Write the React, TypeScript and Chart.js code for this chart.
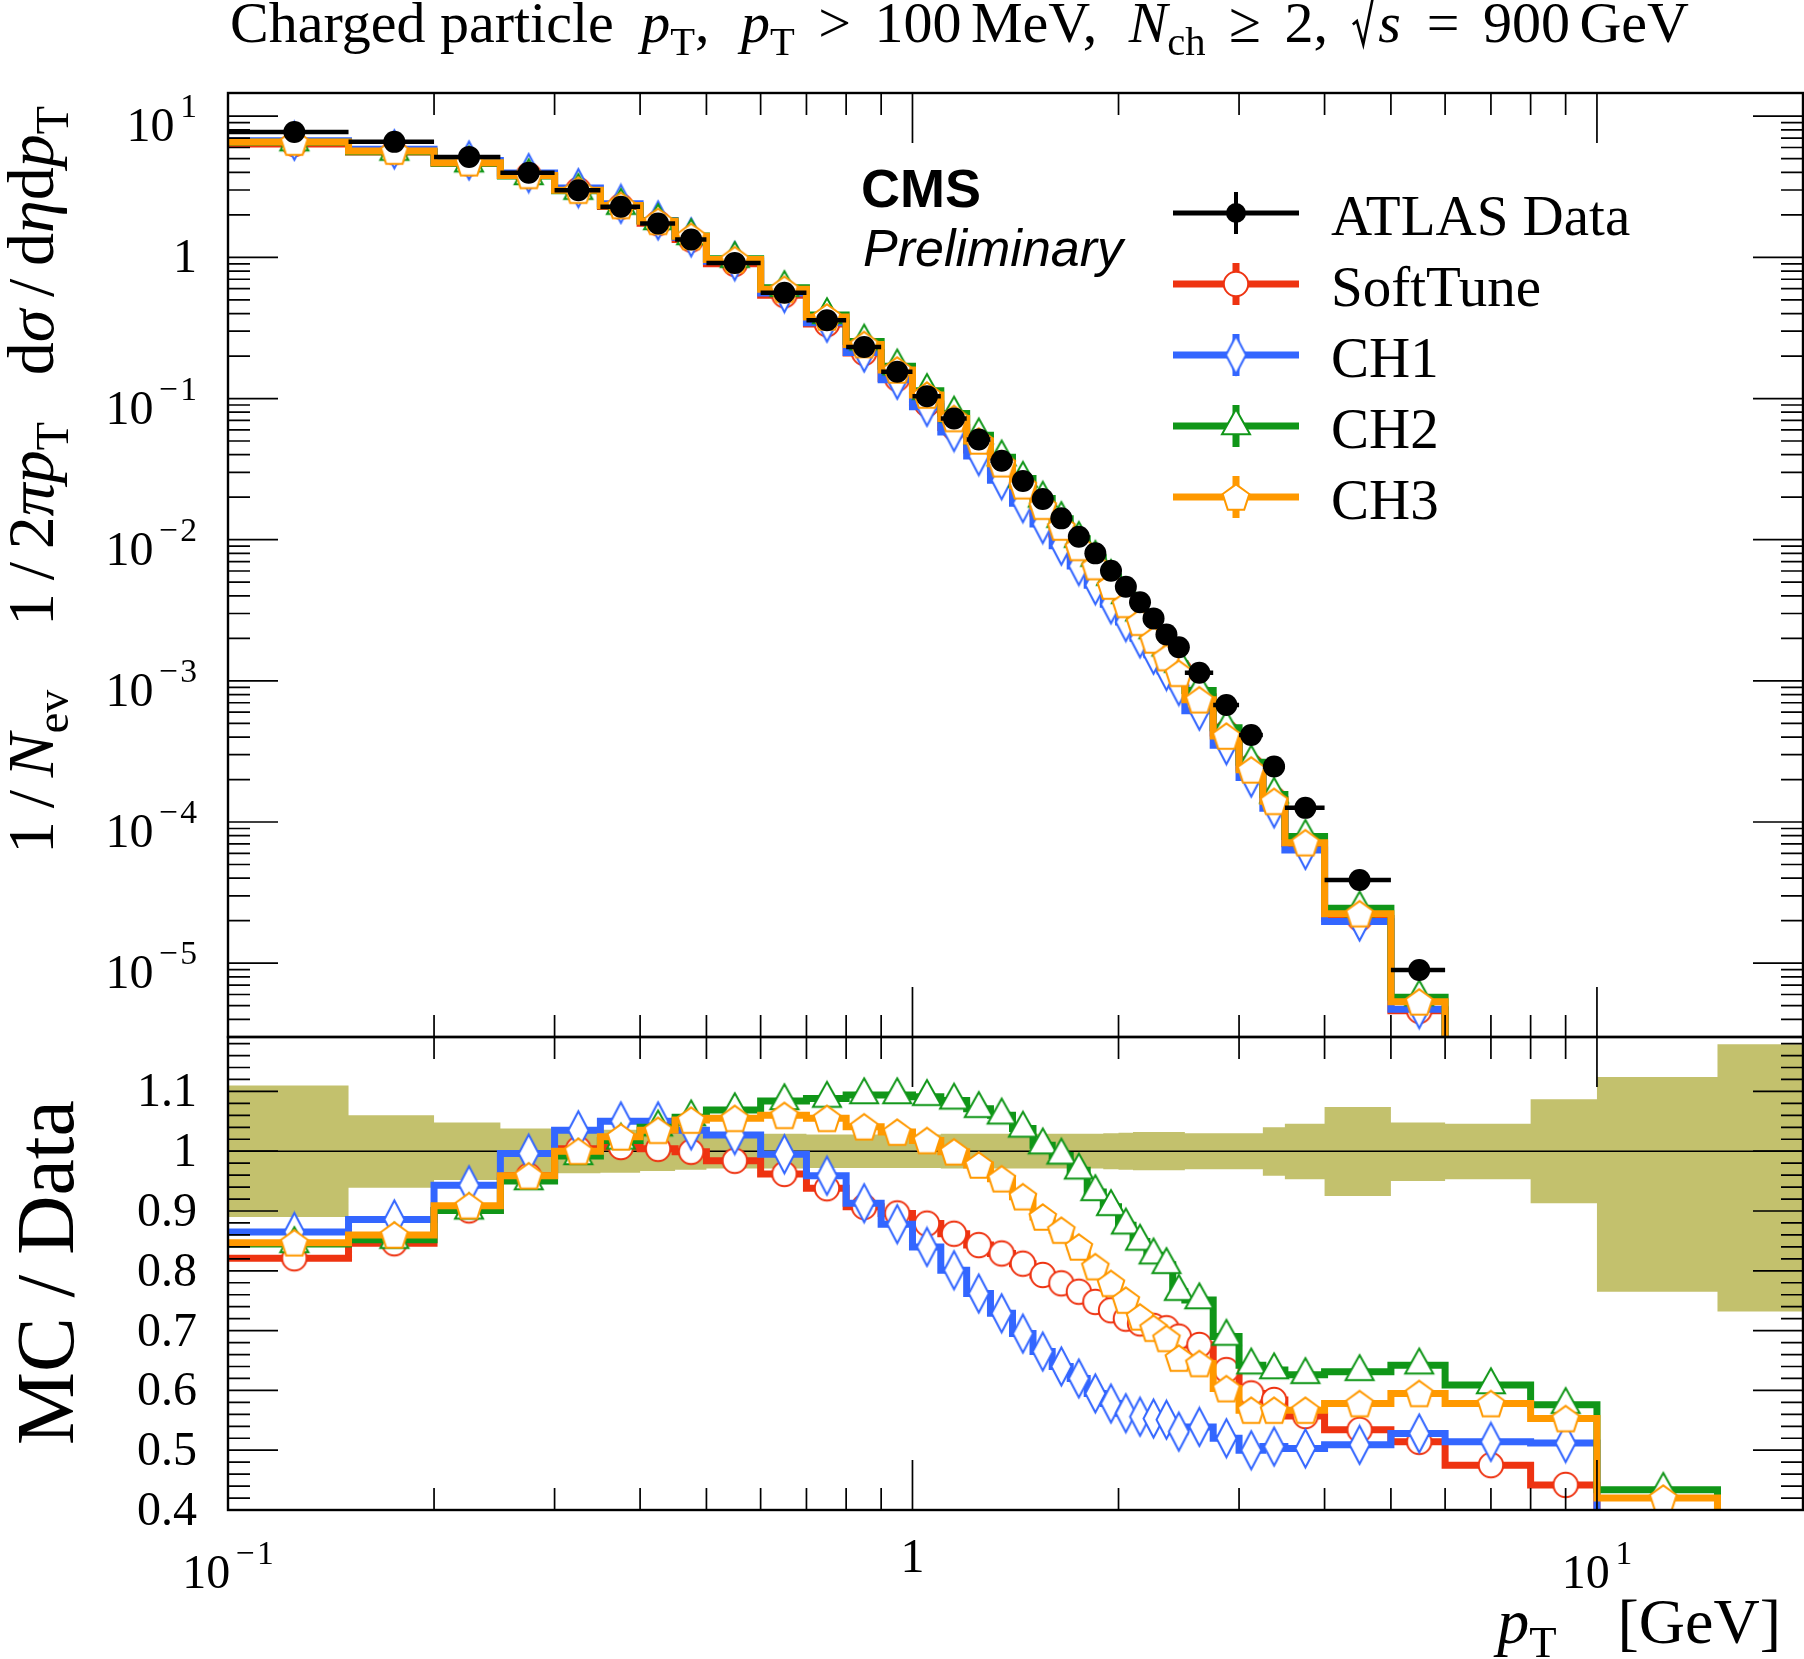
import React, { useEffect, useRef } from "react";
import { Chart, registerables } from "chart.js";

Chart.register(...registerables);

// ------------------------------------------------------------------ data
// bin edges (GeV)
const binEdges = [0.1, 0.15, 0.2, 0.25, 0.3, 0.35, 0.4, 0.45, 0.5, 0.6, 0.7, 0.8, 0.9, 1.0, 1.1, 1.2, 1.3, 1.4, 1.5, 1.6, 1.7, 1.8, 1.9, 2.0, 2.1, 2.2, 2.3, 2.4, 2.5, 2.75, 3.0, 3.25, 3.5, 4.0, 5.0, 6.0, 8.0, 10.0, 15.0, 20.0];

// ATLAS data, 1/Nev 1/2pi pT dsigma/deta dpT (bins up to 6 GeV)
const atlasData = [7.74, 6.58, 5.15, 3.97, 2.99, 2.28, 1.74, 1.34, 0.914, 0.561, 0.359, 0.232, 0.1546, 0.104, 0.0723, 0.0513, 0.0362, 0.0261, 0.0194, 0.01416, 0.0105, 0.008, 0.00603, 0.00464, 0.0036, 0.00277, 0.00213, 0.00173, 0.00114, 0.000674, 0.000413, 0.000247, 0.000126, 3.88e-5, 8.95e-6];

// MC / Data ratios
const softTuneRatio = [0.821, 0.846, 0.901, 0.959, 1.004, 1.007, 1.004, 0.999, 0.984, 0.962, 0.938, 0.907, 0.896, 0.879, 0.862, 0.843, 0.829, 0.812, 0.793, 0.779, 0.765, 0.748, 0.734, 0.72, 0.712, 0.708, 0.704, 0.69, 0.676, 0.634, 0.595, 0.584, 0.557, 0.534, 0.514, 0.475, 0.442, null, null];
const ch1Ratio = [0.865, 0.886, 0.943, 0.996, 1.035, 1.05, 1.05, 1.035, 1.027, 0.995, 0.959, 0.913, 0.878, 0.84, 0.801, 0.762, 0.729, 0.695, 0.665, 0.64, 0.62, 0.595, 0.578, 0.562, 0.556, 0.553, 0.551, 0.531, 0.539, 0.52, 0.5, 0.506, 0.503, 0.509, 0.528, 0.514, 0.512, null, null];
const ch2Ratio = [0.845, 0.852, 0.901, 0.95, 0.992, 1.018, 1.04, 1.057, 1.069, 1.084, 1.088, 1.094, 1.094, 1.091, 1.085, 1.071, 1.06, 1.038, 1.01, 0.993, 0.968, 0.932, 0.907, 0.876, 0.849, 0.826, 0.81, 0.765, 0.751, 0.69, 0.642, 0.634, 0.626, 0.631, 0.642, 0.609, 0.576, 0.434, null];
const ch3Ratio = [0.847, 0.86, 0.909, 0.959, 1.0, 1.024, 1.035, 1.052, 1.055, 1.06, 1.055, 1.041, 1.032, 1.018, 0.999, 0.977, 0.954, 0.924, 0.89, 0.868, 0.84, 0.807, 0.779, 0.751, 0.723, 0.704, 0.687, 0.654, 0.645, 0.603, 0.567, 0.567, 0.567, 0.578, 0.595, 0.578, 0.553, 0.42, null];

// data uncertainty band (ratio units)
const bandUpper = [1.11, 1.06, 1.048, 1.038, 1.037, 1.036, 1.033, 1.031, 1.029, 1.029, 1.028, 1.028, 1.028, 1.028, 1.029, 1.029, 1.029, 1.029, 1.029, 1.029, 1.029, 1.029, 1.03, 1.031, 1.032, 1.032, 1.032, 1.032, 1.03, 1.03, 1.03, 1.04, 1.046, 1.074, 1.048, 1.046, 1.087, 1.124, 1.179];
const bandLower = [0.89, 0.939, 0.952, 0.962, 0.963, 0.964, 0.967, 0.969, 0.971, 0.971, 0.972, 0.972, 0.972, 0.972, 0.971, 0.971, 0.971, 0.971, 0.971, 0.971, 0.971, 0.971, 0.97, 0.969, 0.968, 0.968, 0.968, 0.968, 0.97, 0.97, 0.97, 0.959, 0.953, 0.925, 0.95, 0.953, 0.913, 0.765, 0.732];

// tick labels
const topYTickExps = [1, 0, -1, -2, -3, -4, -5];
const ratioTickValues = [1.1, 1.0, 0.9, 0.8, 0.7, 0.6, 0.5, 0.4];
const ratioTickLabels = ["1.1", "1", "0.9", "0.8", "0.7", "0.6", "0.5", "0.4"];
const xTickExps = [-1, 0, 1];

const legendLabels = ["ATLAS Data", "SoftTune", "CH1", "CH2", "CH3"];

// ------------------------------------------------------------------ layout / style
const W = 1804;
const H = 1659;
const PLOT_LEFT = 228;
const PLOT_RIGHT = 1803;
const TOP_TOP = 93;
const SPLIT = 1037;
const BOT_BOTTOM = 1510;
const X_MIN = 0.1;
const X_MAX = 20;
const TOP_Y_MIN = 3.0e-6;
const TOP_Y_MAX = 14.6;
const R_MIN = 0.4;
const R_MAX = 1.191;

const SERIF = '"Liberation Serif", "DejaVu Serif", serif';
const SANS = '"Liberation Sans", "DejaVu Sans", sans-serif';

const COL = {
  soft: "#EE3311",
  ch1: "#3366FF",
  ch2: "#109618",
  ch3: "#FF9900",
  band: "#C3C16D",
};

type Seg = { t?: string; it?: boolean; sub?: boolean; sup?: boolean; gap?: number; sqrt?: string };

function fontOf(s: Seg, size: number, family: string): string {
  const sz = s.sub || s.sup ? size * 0.7 : size;
  return `${s.it ? "italic " : ""}${sz.toFixed(2)}px ${family}`;
}

const RAD_W = 0.46;

function drawRich(
  ctx: CanvasRenderingContext2D,
  segs: Seg[],
  x: number,
  y: number,
  size: number,
  family: string,
  align: "left" | "right" | "center" = "left",
  target?: number
): number {
  const widths = segs.map((s) => {
    if (s.gap !== undefined) return s.gap * size;
    if (s.sqrt !== undefined) {
      ctx.font = fontOf({ it: true }, size, family);
      return RAD_W * size + ctx.measureText(s.sqrt).width + 0.04 * size;
    }
    ctx.font = fontOf(s, size, family);
    return ctx.measureText(s.t ?? "").width;
  });
  let total = widths.reduce((p, c) => p + c, 0);
  if (target !== undefined) {
    let gapSum = 0;
    segs.forEach((s, i) => {
      if (s.gap !== undefined) gapSum += widths[i];
    });
    if (gapSum > 0) {
      const f = Math.max(0, (target - (total - gapSum)) / gapSum);
      segs.forEach((s, i) => {
        if (s.gap !== undefined) widths[i] *= f;
      });
      total = widths.reduce((p, c) => p + c, 0);
    }
  }
  let cx = align === "right" ? x - total : align === "center" ? x - total / 2 : x;
  ctx.textAlign = "left";
  ctx.textBaseline = "alphabetic";
  segs.forEach((s, i) => {
    if (s.sqrt !== undefined) {
      ctx.font = fontOf({ it: true }, size, family);
      const sw = ctx.measureText(s.sqrt).width;
      ctx.save();
      ctx.strokeStyle = "#000";
      ctx.lineWidth = size * 0.045;
      ctx.lineJoin = "miter";
      ctx.beginPath();
      ctx.moveTo(cx + 0.02 * size, y - 0.3 * size);
      ctx.lineTo(cx + 0.09 * size, y - 0.36 * size);
      ctx.lineTo(cx + 0.2 * size, y + 0.04 * size);
      ctx.lineTo(cx + 0.38 * size, y - 0.84 * size);
      ctx.lineTo(cx + RAD_W * size + sw + 0.04 * size, y - 0.84 * size);
      ctx.stroke();
      ctx.restore();
      ctx.fillText(s.sqrt, cx + RAD_W * size, y);
    } else if (s.gap === undefined) {
      ctx.font = fontOf(s, size, family);
      const dy = s.sub ? 0.22 * size : s.sup ? -0.5 * size : 0;
      ctx.fillText(s.t ?? "", cx, y + dy);
    }
    cx += widths[i];
  });
  return total;
}

type MarkerKind = "circle" | "diamond" | "triangle" | "pentagon";

function makeMarker(kind: MarkerKind, color: string): HTMLCanvasElement {
  const c = document.createElement("canvas");
  const dims: Record<MarkerKind, [number, number]> = {
    circle: [30, 30],
    diamond: [25, 43],
    triangle: [34, 40],
    pentagon: [32, 32],
  };
  c.width = dims[kind][0];
  c.height = dims[kind][1];
  const g = c.getContext("2d")!;
  g.lineWidth = 2;
  g.strokeStyle = color;
  g.fillStyle = "#ffffff";
  g.lineJoin = "miter";
  g.beginPath();
  if (kind === "circle") {
    g.arc(15, 15, 12.2, 0, Math.PI * 2);
  } else if (kind === "diamond") {
    g.moveTo(12.5, 2.5);
    g.lineTo(22.5, 21.5);
    g.lineTo(12.5, 40.5);
    g.lineTo(2.5, 21.5);
    g.closePath();
  } else if (kind === "triangle") {
    g.moveTo(17, 3.3);
    g.lineTo(31, 28.3);
    g.lineTo(3, 28.3);
    g.closePath();
  } else {
    const R = 14;
    const cx = 16;
    const cy = 16 + 0.0955 * R;
    for (let k = 0; k < 5; k++) {
      const a = ((-90 + 72 * k) * Math.PI) / 180;
      const px = cx + R * Math.cos(a);
      const py = cy + R * Math.sin(a);
      if (k === 0) g.moveTo(px, py);
      else g.lineTo(px, py);
    }
    g.closePath();
  }
  g.fill();
  g.stroke();
  return c;
}

const binCenter = (i: number) => (binEdges[i] + binEdges[i + 1]) / 2;

function histPoints(vals: (number | null)[], floor: number | null) {
  const pts: { x: number; y: number }[] = [];
  let last = -1;
  for (let i = 0; i < vals.length; i++) {
    const v = vals[i];
    if (v === null || v === undefined) break;
    pts.push({ x: binEdges[i], y: v });
    last = i;
  }
  if (last >= 0) {
    pts.push({ x: binEdges[last + 1], y: vals[last] as number });
    if (floor !== null) pts.push({ x: binEdges[last + 1], y: floor });
  }
  return pts;
}

function markerPoints(vals: (number | null)[]) {
  const pts: { x: number; y: number }[] = [];
  vals.forEach((v, i) => {
    if (v !== null && v !== undefined) pts.push({ x: binCenter(i), y: v });
  });
  return pts;
}

function xTickList() {
  const out: { v: number; major: boolean }[] = [];
  for (let e = -1; e <= 1; e++) for (let k = 1; k <= 9; k++) out.push({ v: k * Math.pow(10, e), major: k === 1 });
  out.push({ v: 20, major: false });
  return out.filter((t) => t.v >= X_MIN - 1e-9 && t.v <= X_MAX + 1e-9);
}

function topYTickList() {
  const out: { v: number; major: boolean }[] = [];
  for (let e = -6; e <= 1; e++) for (let k = 1; k <= 9; k++) out.push({ v: k * Math.pow(10, e), major: k === 1 });
  return out.filter((t) => t.v >= TOP_Y_MIN && t.v <= TOP_Y_MAX);
}

function ratioTickList() {
  const out: { v: number; major: boolean }[] = [];
  for (let i = 20; i <= 59; i++) out.push({ v: i / 50, major: i % 5 === 0 });
  return out.filter((t) => t.v >= R_MIN - 1e-9 && t.v <= R_MAX);
}

function drawFrame(chart: any, yTicks: { v: number; major: boolean }[]) {
  const ctx: CanvasRenderingContext2D = chart.ctx;
  const a = chart.chartArea;
  const xs = chart.scales.x;
  const ys = chart.scales.y;
  ctx.save();
  ctx.strokeStyle = "#000";
  ctx.lineWidth = 1.7;
  ctx.beginPath();
  for (const t of xTickList()) {
    const px = xs.getPixelForValue(t.v);
    const L = t.major ? 50 : 22;
    ctx.moveTo(px, a.top);
    ctx.lineTo(px, a.top + L);
    ctx.moveTo(px, a.bottom);
    ctx.lineTo(px, a.bottom - L);
  }
  for (const t of yTicks) {
    const py = ys.getPixelForValue(t.v);
    const L = t.major ? 50 : 22;
    ctx.moveTo(a.left, py);
    ctx.lineTo(a.left + L, py);
    ctx.moveTo(a.right, py);
    ctx.lineTo(a.right - L, py);
  }
  ctx.stroke();
  ctx.lineWidth = 2.4;
  ctx.strokeRect(a.left, a.top, a.right - a.left, a.bottom - a.top);
  ctx.restore();
}

export default function App() {
  const topRef = useRef<HTMLCanvasElement>(null);
  const botRef = useRef<HTMLCanvasElement>(null);

  useEffect(() => {
    const series = [
      { label: legendLabels[1], ratio: softTuneRatio, color: COL.soft, img: makeMarker("circle", COL.soft) },
      { label: legendLabels[2], ratio: ch1Ratio, color: COL.ch1, img: makeMarker("diamond", COL.ch1) },
      { label: legendLabels[3], ratio: ch2Ratio, color: COL.ch2, img: makeMarker("triangle", COL.ch2) },
      { label: legendLabels[4], ratio: ch3Ratio, color: COL.ch3, img: makeMarker("pentagon", COL.ch3) },
    ];

    const lineDs = (data: any[], color: string, order: number, extra: any = {}) => ({
      type: "line",
      data,
      borderColor: color,
      backgroundColor: color,
      borderWidth: 7,
      pointRadius: 0,
      stepped: true,
      fill: false,
      tension: 0,
      borderCapStyle: "butt",
      borderJoinStyle: "miter",
      clip: 0,
      order,
      ...extra,
    });
    const markerDs = (data: any[], img: HTMLCanvasElement, order: number) => ({
      type: "line",
      data,
      showLine: false,
      pointStyle: img,
      pointRadius: 12,
      borderColor: "rgba(0,0,0,0)",
      backgroundColor: "rgba(0,0,0,0)",
      clip: 0,
      order,
    });

    // ---------------- top panel datasets
    const topDatasets: any[] = [];
    topDatasets.push({
      type: "line",
      data: atlasData.map((v, i) => ({ x: binCenter(i), y: v })),
      showLine: false,
      pointStyle: "circle",
      pointRadius: 11,
      pointBackgroundColor: "#000",
      pointBorderColor: "#000",
      pointBorderWidth: 0,
      clip: 0,
      order: 0,
    });
    const errPts: any[] = [];
    atlasData.forEach((v, i) => {
      errPts.push({ x: binEdges[i], y: v });
      errPts.push({ x: binEdges[i + 1], y: v });
      errPts.push({ x: binEdges[i + 1], y: null });
    });
    topDatasets.push({
      type: "line",
      data: errPts,
      borderColor: "#000",
      borderWidth: 4.5,
      pointRadius: 0,
      spanGaps: false,
      borderCapStyle: "butt",
      clip: 0,
      order: 1,
    });
    series.forEach((s, k) => {
      const topVals = atlasData.map((d, i) => (s.ratio[i] === null ? null : d * (s.ratio[i] as number)));
      const ord = 2 + (3 - k) * 2;
      topDatasets.push(markerDs(markerPoints(topVals), s.img, ord));
      topDatasets.push(lineDs(histPoints(topVals, 1e-9), s.color, ord + 1));
    });

    // ---------------- ratio panel datasets
    const botDatasets: any[] = [];
    series.forEach((s, k) => {
      const ord = 2 + (3 - k) * 2;
      botDatasets.push(markerDs(markerPoints(s.ratio), s.img, ord));
      botDatasets.push(lineDs(histPoints(s.ratio, 0), s.color, ord + 1));
    });
    botDatasets.push({
      type: "line",
      data: [
        { x: X_MIN, y: 1 },
        { x: X_MAX, y: 1 },
      ],
      borderColor: "#000",
      borderWidth: 1.6,
      pointRadius: 0,
      clip: 0,
      order: 15,
    });
    botDatasets.push({
      type: "line",
      data: histPoints(bandUpper, null),
      stepped: true,
      borderWidth: 0,
      borderColor: "rgba(0,0,0,0)",
      backgroundColor: COL.band,
      pointRadius: 0,
      fill: "+1",
      clip: 0,
      order: 20,
    });
    botDatasets.push({
      type: "line",
      data: histPoints(bandLower, null),
      stepped: true,
      borderWidth: 0,
      borderColor: "rgba(0,0,0,0)",
      backgroundColor: COL.band,
      pointRadius: 0,
      fill: false,
      clip: 0,
      order: 21,
    });

    const titleSegs: Seg[] = [
      { t: "Charged particle" }, { gap: 0.35 }, { t: "p", it: true }, { t: "T", sub: true }, { t: "," }, { gap: 0.4 },
      { t: "p", it: true }, { t: "T", sub: true }, { gap: 0.3 }, { t: ">" }, { gap: 0.3 }, { t: "100" }, { gap: 0.12 },
      { t: "MeV," }, { gap: 0.4 }, { t: "N", it: true }, { t: "ch", sub: true }, { gap: 0.3 }, { t: "≥" }, { gap: 0.3 },
      { t: "2," }, { gap: 0.3 }, { sqrt: "s" }, { gap: 0.3 }, { t: "=" }, { gap: 0.3 }, { t: "900" }, { gap: 0.12 }, { t: "GeV" },
    ];
    const yTitleSegs: Seg[] = [
      { t: "1" }, { gap: 0.06 }, { t: "/" }, { gap: 0.06 }, { t: "N", it: true }, { t: "ev", sub: true }, { gap: 0.3 },
      { t: "1" }, { gap: 0.06 }, { t: "/" }, { gap: 0.06 }, { t: "2" }, { t: "π", it: true }, { t: "p", it: true }, { t: "T", sub: true },
      { gap: 0.22 }, { t: "d" }, { t: "σ", it: true }, { gap: 0.06 }, { t: "/" }, { gap: 0.06 }, { t: "d" }, { t: "η", it: true },
      { t: "d" }, { t: "p", it: true }, { t: "T", sub: true },
    ];

    const topPlugin = {
      id: "topDecor",
      afterDatasetsDraw(chart: any) {
        const ctx: CanvasRenderingContext2D = chart.ctx;
        drawFrame(chart, topYTickList());
        const ys = chart.scales.y;
        ctx.save();
        ctx.fillStyle = "#000";
        // y tick labels
        for (const e of topYTickExps) {
          const py = ys.getPixelForValue(Math.pow(10, e));
          if (e === 0) drawRich(ctx, [{ t: "1" }], 197, py + 15, 48, SERIF, "right");
          else
            drawRich(
              ctx,
              e < 0
                ? [{ t: "10" }, { gap: 0.12 }, { t: "−", sup: true }, { gap: 0.04 }, { t: String(-e), sup: true }]
                : [{ t: "10" }, { gap: 0.12 }, { t: String(e), sup: true }],
              197,
              py + 25,
              48,
              SERIF,
              "right"
            );
        }
        // title
        drawRich(ctx, titleSegs, 230, 42, 58, SERIF, "left", 1459);
        // y-axis title (rotated)
        ctx.save();
        ctx.translate(53, 854);
        ctx.rotate(-Math.PI / 2);
        drawRich(ctx, yTitleSegs, 0, 0, 66, SERIF, "left", 748);
        ctx.restore();
        // CMS Preliminary
        ctx.font = `bold 54px ${SANS}`;
        ctx.textAlign = "left";
        ctx.textBaseline = "alphabetic";
        ctx.fillText("CMS", 861, 207);
        ctx.font = `italic 52px ${SANS}`;
        ctx.fillText("Preliminary", 863, 266);
        // legend
        const LX0 = 1173;
        const LX1 = 1299;
        const LXC = 1236;
        for (let i = 0; i < 5; i++) {
          const y = 213 + i * 71;
          if (i === 0) {
            ctx.strokeStyle = "#000";
            ctx.lineWidth = 5;
            ctx.beginPath();
            ctx.moveTo(LX0, y);
            ctx.lineTo(LX1, y);
            ctx.stroke();
            ctx.lineWidth = 4;
            ctx.beginPath();
            ctx.moveTo(LXC, y - 21);
            ctx.lineTo(LXC, y + 21);
            ctx.stroke();
            ctx.beginPath();
            ctx.arc(LXC, y, 10, 0, Math.PI * 2);
            ctx.fill();
          } else {
            const s = series[i - 1];
            ctx.strokeStyle = s.color;
            ctx.lineWidth = 7;
            ctx.beginPath();
            ctx.moveTo(LX0, y);
            ctx.lineTo(LX1, y);
            ctx.moveTo(LXC, y - 21);
            ctx.lineTo(LXC, y + 21);
            ctx.stroke();
            ctx.drawImage(s.img, LXC - s.img.width / 2, y - s.img.height / 2);
          }
          ctx.fillStyle = "#000";
          ctx.font = `57px ${SERIF}`;
          ctx.fillText(legendLabels[i], 1331, y + 22);
        }
        ctx.restore();
      },
    };

    const botPlugin = {
      id: "botDecor",
      afterDatasetsDraw(chart: any) {
        const ctx: CanvasRenderingContext2D = chart.ctx;
        drawFrame(chart, ratioTickList());
        const ys = chart.scales.y;
        const xs = chart.scales.x;
        ctx.save();
        ctx.fillStyle = "#000";
        ratioTickValues.forEach((v, i) => {
          const py = ys.getPixelForValue(v);
          drawRich(ctx, [{ t: ratioTickLabels[i] }], 197, py + 15, 48, SERIF, "right");
        });
        for (const e of xTickExps) {
          const px = xs.getPixelForValue(Math.pow(10, e));
          if (e === 0) drawRich(ctx, [{ t: "1" }], px, 1572, 48, SERIF, "center");
          else
            drawRich(
              ctx,
              e < 0
                ? [{ t: "10" }, { gap: 0.12 }, { t: "−", sup: true }, { gap: 0.04 }, { t: String(-e), sup: true }]
                : [{ t: "10" }, { gap: 0.12 }, { t: String(e), sup: true }],
              px,
              1588,
              48,
              SERIF,
              "center"
            );
        }
        // x title
        drawRich(ctx, [{ t: "p", it: true }, { t: "T", sub: true }, { gap: 0.95 }, { t: "[GeV]" }], 1781, 1643, 64, SERIF, "right");
        // ratio y title
        ctx.save();
        ctx.translate(73, 1445);
        ctx.rotate(-Math.PI / 2);
        drawRich(ctx, [{ t: "MC" }, { gap: 0.1 }, { t: "/" }, { gap: 0.1 }, { t: "Data" }], 0, 0, 82, SERIF, "left", 345);
        ctx.restore();
        ctx.restore();
      },
    };

    const common = (padTop: number, padBottom: number) => ({
      responsive: false,
      animation: false,
      devicePixelRatio: 1,
      events: [],
      layout: { autoPadding: false, padding: { left: PLOT_LEFT, right: W - PLOT_RIGHT, top: padTop, bottom: padBottom } },
      plugins: { legend: { display: false }, tooltip: { enabled: false }, title: { display: false } },
    });

    const topChart = new Chart(topRef.current!, {
      type: "line",
      data: { datasets: topDatasets },
      options: {
        ...common(TOP_TOP, H - SPLIT),
        scales: {
          x: { type: "logarithmic", min: X_MIN, max: X_MAX, display: false, bounds: "data" },
          y: { type: "logarithmic", min: TOP_Y_MIN, max: TOP_Y_MAX, display: false, bounds: "data" },
        },
      } as any,
      plugins: [topPlugin],
    } as any);

    const botChart = new Chart(botRef.current!, {
      type: "line",
      data: { datasets: botDatasets },
      options: {
        ...common(SPLIT, H - BOT_BOTTOM),
        scales: {
          x: { type: "logarithmic", min: X_MIN, max: X_MAX, display: false, bounds: "data" },
          y: { type: "linear", min: R_MIN, max: R_MAX, display: false, bounds: "data" },
        },
      } as any,
      plugins: [botPlugin],
    } as any);

    return () => {
      topChart.destroy();
      botChart.destroy();
    };
  }, []);

  return (
    <div style={{ position: "absolute", left: 0, top: 0, width: W, height: H, background: "#ffffff" }}>
      <canvas ref={topRef} width={W} height={H} style={{ position: "absolute", left: 0, top: 0, width: W, height: H }} />
      <canvas ref={botRef} width={W} height={H} style={{ position: "absolute", left: 0, top: 0, width: W, height: H }} />
    </div>
  );
}
